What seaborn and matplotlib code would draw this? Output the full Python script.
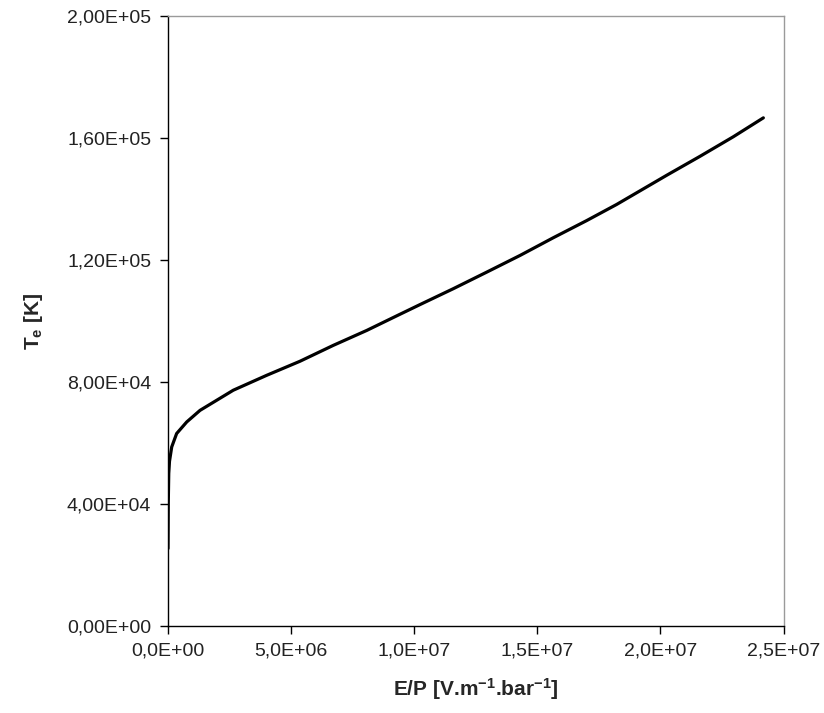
import numpy as np
import pandas as pd
import matplotlib
matplotlib.use("Agg")
import matplotlib.pyplot as plt
from matplotlib.ticker import FuncFormatter, MultipleLocator
import seaborn as sns

# Electron temperature versus reduced field E/P
ep_values = [0.0, 0.01e6, 0.03e6, 0.06e6, 0.15e6, 0.35e6, 0.76e6, 1.30e6,
             2.65e6, 4.01e6, 5.36e6, 6.71e6, 8.07e6, 9.42e6, 10.24e6, 11.59e6,
             12.94e6, 14.30e6, 15.65e6, 17.00e6, 18.22e6, 18.90e6, 20.26e6,
             21.61e6, 22.96e6, 24.18e6]
te_values = [25.4e3, 40.0e3, 50.0e3, 54.0e3, 58.7e3, 63.1e3, 66.9e3, 70.7e3,
             77.3e3, 82.2e3, 86.8e3, 92.0e3, 96.9e3, 102.2e3, 105.4e3, 110.6e3,
             116.0e3, 121.5e3, 127.3e3, 132.9e3, 138.2e3, 141.4e3, 147.8e3,
             154.0e3, 160.4e3, 166.6e3]

df = pd.DataFrame({"ep": ep_values, "te": te_values})

sns.set_theme(style="white")
plt.rcParams["font.family"] = ["Liberation Sans", "DejaVu Sans"]
plt.rcParams["mathtext.fontset"] = "custom"
plt.rcParams["mathtext.rm"] = "Liberation Sans"
plt.rcParams["mathtext.bf"] = "Liberation Sans:bold"
plt.rcParams["mathtext.it"] = "Liberation Sans:italic"

fig = plt.figure(figsize=(8.24, 7.13), dpi=100)
ax = fig.add_axes([0.2039, 0.122, 0.7470, 0.8556])

sns.lineplot(data=df, x="ep", y="te", ax=ax, color="black", linewidth=2.3,
             estimator=None, sort=False)

ax.set_xlim(0, 2.5e7)
ax.set_ylim(0, 2.0e5)
ax.xaxis.set_major_locator(MultipleLocator(5e6))
ax.yaxis.set_major_locator(MultipleLocator(4e4))
ax.xaxis.set_major_formatter(FuncFormatter(lambda v, p: f"{v:.1E}".replace(".", ",")))
ax.yaxis.set_major_formatter(FuncFormatter(lambda v, p: f"{v:.2E}".replace(".", ",")))

ax.tick_params(axis="both", which="major", direction="out", length=6, width=1,
               color="black", labelsize=14, labelcolor="#222222", pad=6,
               bottom=True, left=True, top=False, right=False)

for side in ("left", "bottom"):
    ax.spines[side].set_color("black")
    ax.spines[side].set_linewidth(1.0)
for side in ("top", "right"):
    ax.spines[side].set_color("#9a9a9a")
    ax.spines[side].set_linewidth(1.0)

ax.set_xlabel(r"E/P [V.m$^{\mathbf{-1}}$.bar$^{\mathbf{-1}}$]", fontsize=15,
              fontweight="bold", labelpad=12)
ax.set_ylabel(r"T$_{\mathbf{e}}$ [K]", fontsize=15, fontweight="bold", labelpad=16)

fig.savefig("out.png", dpi=100)
